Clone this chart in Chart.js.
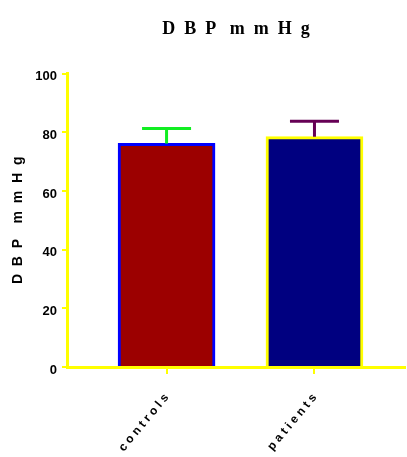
<!DOCTYPE html>
<html>
<head>
<meta charset="utf-8">
<script src="https://cdn.jsdelivr.net/npm/chart.js@4"></script>
<style>
  html, body { margin: 0; padding: 0; background: #fff; }
  #wrap { width: 407px; height: 457px; }
</style>
</head>
<body>
<div id="wrap"><canvas id="dbpChart" width="407" height="457"></canvas></div>
<script>
// ── Data ─────────────────────────────────────────────────────
const groups      = ["controls", "patients"];
const meanDBP     = [76.2, 78.5];
const sdDBP       = [5.1, 5.3];
const yTicks      = [0, 20, 40, 60, 80, 100];

const fillColors  = ["#9c0000", "#000080"];
const edgeColors  = ["#0000ff", "#ffff00"];
const errColors   = ["#11ee22", "#660055"];

const spaced = (s) => s.split("").join(" ");

// ── Error bars (upper half only, like the original) ──────────
const errorBars = {
  id: "errorBars",
  afterDatasetsDraw(chart) {
    const { ctx, scales: { x, y } } = chart;
    ctx.save();
    ctx.lineWidth = 3;
    meanDBP.forEach((m, i) => {
      const px  = x.getPixelForValue(i + 1);
      const top = y.getPixelForValue(m + sdDBP[i]);
      const bot = y.getPixelForValue(m);
      ctx.strokeStyle = errColors[i];
      ctx.beginPath();
      ctx.moveTo(px, bot);
      ctx.lineTo(px, top);
      ctx.moveTo(px - 24.5, top);
      ctx.lineTo(px + 24.5, top);
      ctx.stroke();
    });
    ctx.restore();
  }
};

new Chart(document.getElementById("dbpChart"), {
  type: "bar",
  data: {
    datasets: [{
      data: meanDBP.map((v, i) => ({ x: i + 1, y: v })),
      backgroundColor: fillColors,
      borderColor: edgeColors,
      borderWidth: 3,
      borderSkipped: "start",
      barThickness: 97,
    }],
  },
  options: {
    responsive: false,
    animation: false,
    layout: { padding: { left: 0, right: 2, top: 0, bottom: 0 } },
    plugins: {
      legend: { display: false },
      tooltip: { enabled: false },
      title: {
        display: true,
        fullSize: false,
        text: "D  B  P   m  m  H  g",
        color: "#000",
        font: { family: "'Liberation Serif', 'Times New Roman', serif", size: 18, weight: "bold" },
        padding: { top: 19, bottom: 33 },
      },
    },
    scales: {
      x: {
        type: "linear",
        offset: false,
        min: 0.327,
        max: 2.612,
        afterBuildTicks: (axis) => { axis.ticks = groups.map((g, i) => ({ value: i + 1 })); },
        afterFit: (axis) => { axis.height = 90; },
        border: { color: "#ffff00", width: 3 },
        grid: { offset: false, drawOnChartArea: false, drawTicks: true, tickLength: 7, color: "#ffff00", lineWidth: 2 },
        ticks: {
          autoSkip: false,
          minRotation: 50,
          maxRotation: 50,
          padding: 17,
          color: "#000",
          font: { family: "'Liberation Sans', Arial, sans-serif", size: 12, weight: "bold" },
          callback: (v) => spaced(groups[v - 1] || ""),
        },
      },
      y: {
        min: 0,
        max: 100,
        afterBuildTicks: (axis) => { axis.ticks = yTicks.map(v => ({ value: v })); },
        afterFit: (axis) => { axis.width = 67; },
        border: { color: "#ffff00", width: 3 },
        grid: { drawOnChartArea: false, drawTicks: true, tickLength: 5, color: "#ffff00", lineWidth: 2 },
        ticks: {
          padding: 5,
          labelOffset: 3,
          color: "#000",
          font: { family: "'Liberation Sans', Arial, sans-serif", size: 13, weight: "bold" },
        },
        title: {
          display: true,
          text: "D  B  P    m  m  H  g",
          color: "#000",
          padding: { top: 10, bottom: 0 },
          font: { family: "'Liberation Sans', Arial, sans-serif", size: 14, weight: "bold" },
        },
      },
    },
  },
  plugins: [errorBars],
});
</script>
</body>
</html>
